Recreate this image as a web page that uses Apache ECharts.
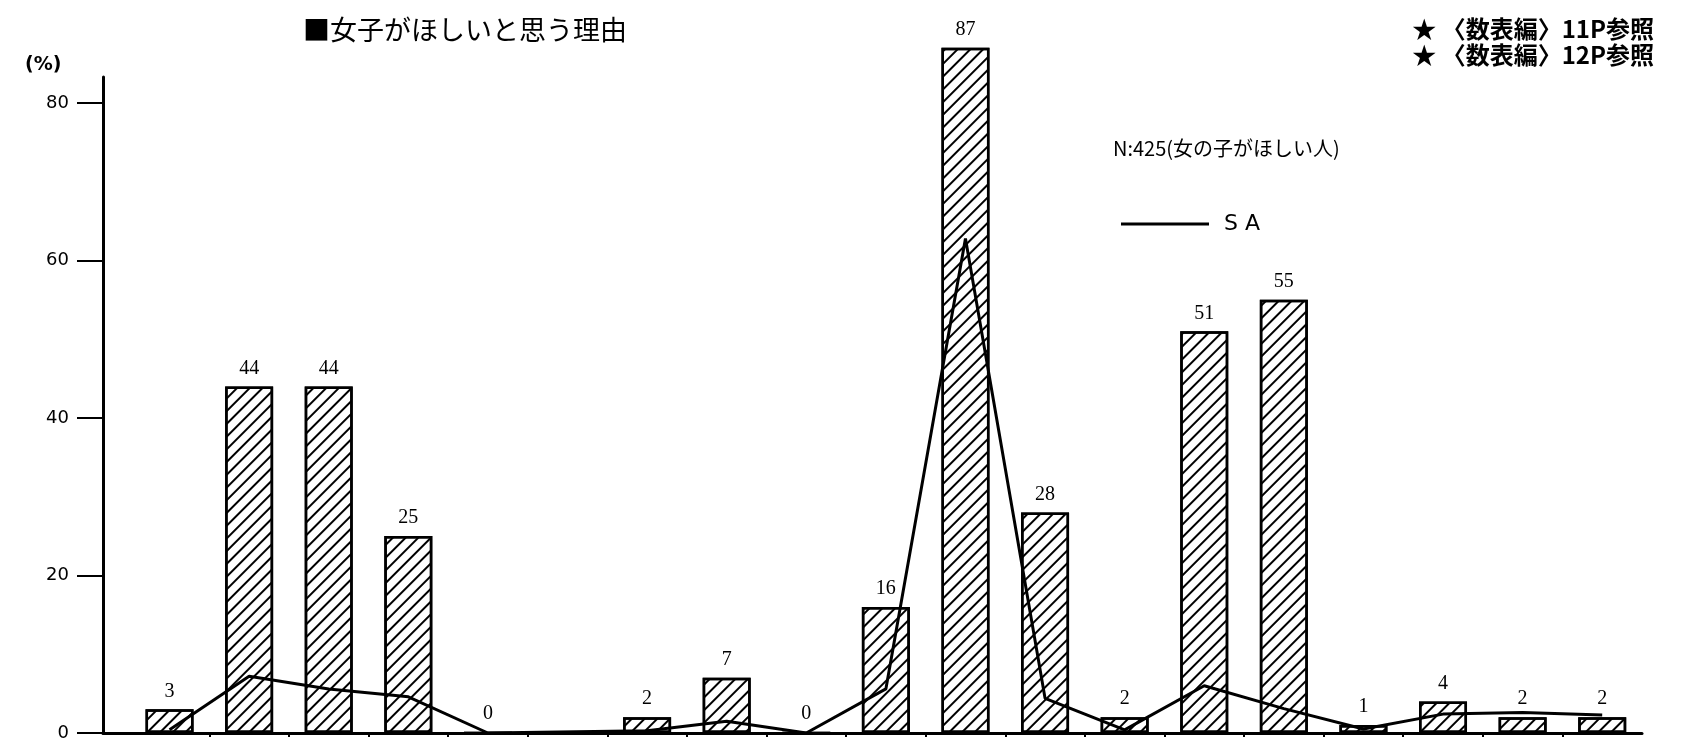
<!DOCTYPE html>
<html>
<head>
<meta charset="utf-8">
<title>女子がほしいと思う理由</title>
<script src="https://cdn.jsdelivr.net/npm/echarts@6/dist/echarts.min.js"></script>
<style>
  html, body { margin: 0; padding: 0; background: #fff; }
  #chart { width: 1681px; height: 745px; }
</style>
</head>
<body>
<div id="chart"></div>
<script>
// 棒グラフの値（%） null は空き項目
const barValues = [3, 44, 44, 25, 0, null, 2, 7, 0, 16, 87, 28, 2, 51, 55, 1, 4, 2, 2]
// SA 折れ線の値（%）
const saValues = [0.4, 7.2, 5.6, 4.6, 0, null, 0.3, 1.5, 0, 5.6, 62.8, 4.4, 0.4, 6.0, 3.1, 0.5, 2.4, 2.6, 2.3]
const yTicks = [0, 20, 40, 60, 80]

const barData = barValues.map((v, i) => [i, v]).filter(d => d[1] !== null)
const lineData = saValues.map((v, i) => [i, v]).filter(d => d[1] !== null)
// 項目の境目の目盛り
const slotEdges = barValues.slice(1).map((v, i) => i + 0.5)

const chart = echarts.init(document.getElementById('chart'))

chart.setOption({
  backgroundColor: '#fff',
  animation: false,
  title: [
    {
      text: '■女子がほしいと思う理由',
      left: 298,
      top: 11,
      textStyle: { fontFamily: 'Noto Sans CJK JP', fontSize: 27, fontWeight: 'normal', color: '#000' }
    },
    {
      text: '★ 〈数表編〉11P参照\n★ 〈数表編〉12P参照',
      right: 22,
      top: 11,
      textStyle: { fontFamily: 'Noto Sans CJK JP', fontSize: 24, fontWeight: 'bold', color: '#000', lineHeight: 26 }
    },
    {
      text: '(%)',
      left: 20,
      top: 51,
      textStyle: { fontFamily: 'DejaVu Sans', fontSize: 19, fontWeight: 'bold', color: '#000' }
    },
    {
      text: 'N:425(女の子がほしい人)',
      left: 1108,
      top: 133,
      textStyle: { fontFamily: 'Noto Sans CJK JP', fontSize: 20, fontWeight: 'normal', color: '#000' }
    }
  ],
  legend: {
    data: ['S A'],
    left: 1116,
    top: 208,
    icon: 'rect',
    itemWidth: 88,
    itemHeight: 3,
    textStyle: { fontFamily: 'DejaVu Sans', fontSize: 22, color: '#000', padding: [0, 0, 0, 10] }
  },
  grid: {
    left: 103,
    right: 39,
    top: 77,
    bottom: 12,
    containLabel: false
  },
  xAxis: {
    type: 'value',
    min: -0.836,
    max: 18.5,
    splitLine: { show: false },
    axisLabel: { show: false },
    axisLine: { show: true, onZero: false, lineStyle: { color: '#000', width: 3 } },
    axisTick: {
      show: true,
      inside: false,
      length: 4,
      customValues: slotEdges,
      lineStyle: { color: '#000', width: 2 }
    }
  },
  yAxis: {
    type: 'value',
    min: 0,
    max: 83.3,
    interval: 20,
    splitLine: { show: false },
    axisLine: { show: true, onZero: false, lineStyle: { color: '#000', width: 3 } },
    axisTick: {
      show: true,
      length: 26,
      customValues: yTicks,
      lineStyle: { color: '#000', width: 2 }
    },
    axisLabel: {
      margin: 34,
      customValues: yTicks,
      formatter: v => (yTicks.indexOf(v) >= 0 ? String(v) : ''),
      fontFamily: 'DejaVu Sans',
      fontSize: 18,
      color: '#000'
    }
  },
  series: [
    {
      name: 'bars',
      type: 'bar',
      barWidth: 48,
      clip: false,
      data: barData,
      itemStyle: {
        color: '#fff',
        borderColor: '#000',
        borderWidth: 2.5,
        decal: {
          symbol: 'rect',
          symbolSize: 1,
          color: '#000',
          dashArrayX: [1, 0],
          dashArrayY: [1.6, 6.4],
          rotation: -Math.PI / 4
        }
      },
      label: {
        show: true,
        position: 'top',
        distance: 8,
        formatter: p => String(p.value[1]),
        fontFamily: 'Liberation Serif',
        fontSize: 20,
        color: '#000'
      },
      z: 2
    },
    {
      name: 'S A',
      type: 'line',
      data: lineData,
      symbol: 'none',
      showSymbol: false,
      clip: false,
      lineStyle: { color: '#000', width: 3 },
      itemStyle: { color: '#000' },
      z: 3
    }
  ]
})
</script>
</body>
</html>
